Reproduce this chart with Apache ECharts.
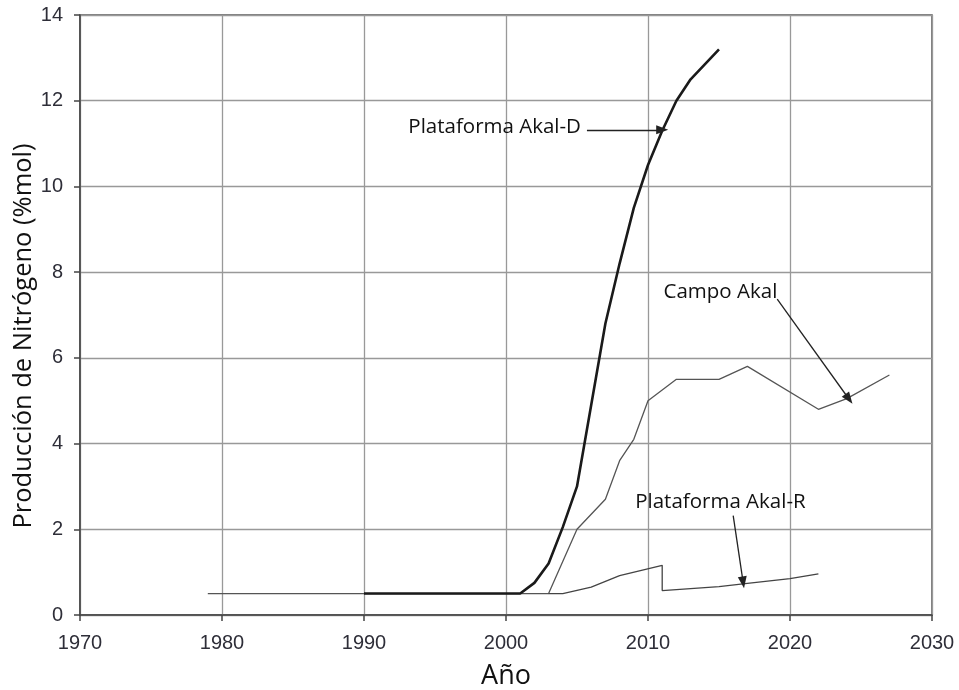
<!DOCTYPE html>
<html><head><meta charset="utf-8">
<script src="https://cdn.jsdelivr.net/npm/echarts@6/dist/echarts.min.js"></script>
<style>html,body{margin:0;padding:0;background:#fff}#c{width:959px;height:690px}</style>
</head><body><div id="c"></div>
<script>
// Data (year, %mol)
const akalD = [[1990,0.5],[2001,0.5],[2002,0.75],[2003,1.2],[2004,2.05],[2005,3.0],[2006,4.9],[2007,6.8],[2008,8.2],[2009,9.5],[2010,10.5],[2011,11.3],[2012,12.0],[2013,12.5],[2014,12.85],[2015,13.2]];
const campoAkal = [[1979,0.5],[2003,0.5],[2005,2.0],[2007,2.7],[2008,3.6],[2009,4.1],[2010,5.0],[2012,5.5],[2015,5.5],[2017,5.8],[2022,4.8],[2024,5.05],[2027,5.6]];
const akalR = [[2003,0.5],[2004,0.5],[2006,0.65],[2008,0.92],[2011,1.16],[2011,0.57],[2015,0.66],[2017,0.74],[2020,0.85],[2022,0.96]];
const xTicks = [1970,1980,1990,2000,2010,2020,2030];
const yTicks = [0,2,4,6,8,10,12,14];
const xTitle = 'Año';
const yTitle = 'Producción de Nitrógeno (%mol)';
// Annotations: label, text centre, arrow start, arrow end (data coords)
const annLabels = ['Plataforma Akal-D','Campo Akal','Plataforma Akal-R'];
const annText = [[1999.2,11.39],[2015.1,7.53],[2015.1,2.63]];
const annFrom = [[2005.7,11.32],[2019.1,7.37],[2016.0,2.32]];
const annTo = [[2011.0,11.32],[2024.15,5.04],[2016.7,0.76]];

const chart = echarts.init(document.getElementById('c'));
const arrowLines = annLabels.map((l,i)=>[{coord:annFrom[i]},{coord:annTo[i]}]);
chart.setOption({
  animation:false,
  grid:{left:80,top:15,right:27,bottom:75,show:true,borderColor:'#555',borderWidth:1.5,outerBoundsMode:'none',containLabel:false},
  xAxis:{type:'value',min:xTicks[0],max:xTicks[xTicks.length-1],interval:10,
    name:xTitle,nameLocation:'middle',nameGap:48,
    nameTextStyle:{fontFamily:'Open Sans',fontSize:27,color:'#111'},
    axisLine:{lineStyle:{color:'#444',width:1.5}},
    axisTick:{show:true,length:6,lineStyle:{color:'#444',width:1.5}},
    axisLabel:{fontFamily:'Liberation Sans',fontSize:20,color:'#2e2e38',margin:18,formatter:v=>String(v)},
    splitLine:{lineStyle:{color:'#999',width:1.3}}},
  yAxis:{type:'value',min:yTicks[0],max:yTicks[yTicks.length-1],interval:2,
    axisLine:{show:true,lineStyle:{color:'#444',width:1.5}},
    axisTick:{show:true,length:6,lineStyle:{color:'#444',width:1.5}},
    axisLabel:{fontFamily:'Liberation Sans',fontSize:20,color:'#2e2e38',margin:17},
    splitLine:{lineStyle:{color:'#999',width:1.3}}},
  series:[
    {type:'line',name:'Campo Akal',data:campoAkal,showSymbol:false,lineStyle:{color:'#555',width:1.3},z:3,
     markLine:{silent:true,symbol:['none','triangle'],symbolSize:[9,12],label:{show:false},
       lineStyle:{color:'#222',width:1.3,type:'solid'},data:arrowLines}},
    {type:'line',name:'Plataforma Akal-R',data:akalR,showSymbol:false,lineStyle:{color:'#444',width:1.3},z:3},
    {type:'line',name:'Plataforma Akal-D',data:akalD,showSymbol:false,lineStyle:{color:'#1a1a1a',width:2.6},z:4}
  ]
});
const g = annLabels.map((t,i)=>{
  const p = chart.convertToPixel({gridIndex:0}, annText[i]);
  return {type:'text',id:'ann'+i,x:p[0],y:p[1],style:{text:t,fontFamily:'Open Sans',fontSize:20.5,fill:'#111',align:'center',verticalAlign:'middle'},z:10};
});
g.push({type:'text',id:'ytitle',x:24,y:336,rotation:Math.PI/2,
  style:{text:yTitle,fontFamily:'Open Sans',fontSize:25.5,fill:'#111',align:'center',verticalAlign:'middle'}});
chart.setOption({graphic:g});
</script></body></html>
